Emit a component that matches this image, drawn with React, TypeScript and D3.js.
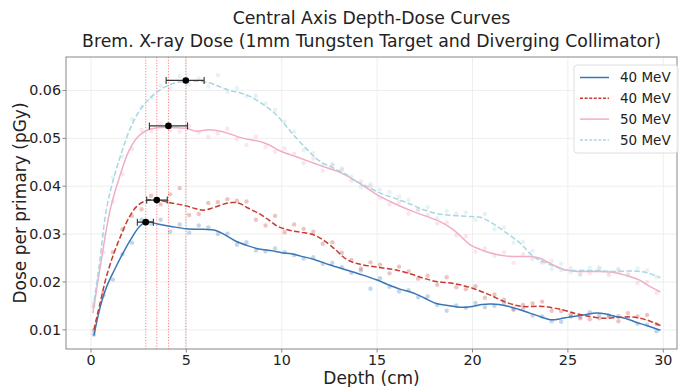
import React from "react";
import * as d3 from "d3";

// ---------- data ----------
const seriesLabels = ["40 MeV", "40 MeV", "50 MeV", "50 MeV"];
const xTicks = [0, 5, 10, 15, 20, 25, 30];
const yTicks = [0.01, 0.02, 0.03, 0.04, 0.05, 0.06];

// smoothed curves (depth cm, dose pGy)
const blueDepth = [0.15, 0.5, 0.8, 1.2, 1.7, 2.1, 2.5, 2.9, 3.5, 4.2, 5.0, 5.9, 6.5, 7.0, 7.6, 8.2, 8.8, 9.5, 10.0, 10.5, 11.0, 11.7, 12.5, 13.4, 14.2, 15.0, 15.6, 16.2, 16.9, 17.5, 18.1, 18.7, 19.4, 20.0, 20.5, 21.0, 21.8, 22.4, 23.0, 23.6, 24.1, 24.6, 25.1, 25.8, 26.5, 27.0, 27.5, 28.0, 28.5, 29.2, 29.85];
const blueDose = [0.0088, 0.0150, 0.0188, 0.0223, 0.0262, 0.0290, 0.0314, 0.0326, 0.0321, 0.0316, 0.0311, 0.0310, 0.0308, 0.0299, 0.0285, 0.0276, 0.0269, 0.0265, 0.0261, 0.0259, 0.0254, 0.0247, 0.0236, 0.0225, 0.0215, 0.0204, 0.0194, 0.0185, 0.0177, 0.0166, 0.0155, 0.0151, 0.0147, 0.0149, 0.0153, 0.0154, 0.0150, 0.0143, 0.0135, 0.0127, 0.0121, 0.0123, 0.0127, 0.0131, 0.0135, 0.0133, 0.0128, 0.0124, 0.0117, 0.0108, 0.0099];

const redDepth = [0.15, 0.5, 0.8, 1.2, 1.6, 2.0, 2.4, 2.9, 3.5, 4.2, 5.0, 5.5, 5.9, 6.4, 6.9, 7.4, 7.8, 8.2, 8.8, 9.3, 9.8, 10.4, 11.0, 11.7, 12.2, 12.8, 13.4, 14.0, 15.0, 16.0, 16.9, 17.5, 18.1, 19.0, 20.0, 20.9, 21.8, 22.6, 23.7, 24.7, 25.4, 26.0, 27.0, 27.6, 28.3, 29.1, 29.85];
const redDose = [0.0100, 0.0160, 0.0210, 0.0260, 0.0300, 0.0335, 0.0358, 0.0370, 0.0371, 0.0365, 0.0359, 0.0353, 0.0350, 0.0355, 0.0362, 0.0366, 0.0364, 0.0355, 0.0343, 0.0330, 0.0316, 0.0308, 0.0304, 0.0298, 0.0287, 0.0268, 0.0247, 0.0238, 0.0231, 0.0225, 0.0215, 0.0207, 0.0201, 0.0197, 0.0187, 0.0173, 0.0157, 0.0149, 0.0149, 0.0142, 0.0134, 0.0129, 0.0124, 0.0126, 0.0127, 0.0121, 0.0109];

const pinkDepth = [0.1, 0.5, 1.0, 1.5, 2.0, 2.5, 3.0, 3.5, 4.0, 4.5, 5.0, 5.5, 6.2, 6.8, 7.3, 8.0, 8.9, 9.4, 9.9, 10.5, 11.0, 11.7, 12.4, 13.0, 13.5, 14.0, 14.5, 15.0, 15.9, 16.9, 17.6, 18.3, 19.0, 19.5, 19.9, 20.4, 20.8, 21.8, 23.0, 23.5, 24.2, 24.9, 25.5, 26.5, 27.4, 28.2, 28.7, 29.2, 29.85];
const pinkDose = [0.0135, 0.0235, 0.0350, 0.0420, 0.0475, 0.0505, 0.0518, 0.0522, 0.0523, 0.0522, 0.0521, 0.0515, 0.0518, 0.0515, 0.0509, 0.0500, 0.0493, 0.0485, 0.0474, 0.0465, 0.0458, 0.0448, 0.0438, 0.0430, 0.0420, 0.0408, 0.0395, 0.0382, 0.0364, 0.0347, 0.0337, 0.0326, 0.0309, 0.0291, 0.0277, 0.0268, 0.0262, 0.0254, 0.0253, 0.0250, 0.0236, 0.0225, 0.0222, 0.0222, 0.0220, 0.0212, 0.0205, 0.0193, 0.0179];

const lightDepth = [0.1, 0.45, 0.8, 1.2, 1.6, 2.0, 2.5, 3.0, 3.6, 4.2, 4.8, 5.4, 6.2, 6.8, 7.3, 8.0, 8.6, 9.2, 9.7, 10.2, 10.6, 11.3, 11.9, 12.7, 13.4, 13.8, 14.3, 15.2, 16.0, 16.6, 17.3, 18.0, 18.7, 19.7, 20.4, 20.9, 21.4, 21.8, 22.5, 23.2, 23.9, 24.4, 24.9, 26.5, 27.4, 28.4, 29.1, 29.85];
const lightDose = [0.0145, 0.0240, 0.0350, 0.0418, 0.0470, 0.0515, 0.0555, 0.0580, 0.0601, 0.0613, 0.0619, 0.0620, 0.0616, 0.0607, 0.0600, 0.0593, 0.0582, 0.0566, 0.0550, 0.0527, 0.0508, 0.0478, 0.0455, 0.0438, 0.0424, 0.0412, 0.0403, 0.0385, 0.0374, 0.0365, 0.0353, 0.0344, 0.0340, 0.0337, 0.0335, 0.0326, 0.0313, 0.0302, 0.0281, 0.0253, 0.0239, 0.0231, 0.0225, 0.0224, 0.0222, 0.0223, 0.0220, 0.0209];

// raw scatter samples
const scatterDepth = [0.15, 0.65, 1.15, 1.65, 2.15, 2.65, 3.15, 3.65, 4.15, 4.65, 5.15, 5.65, 6.15, 6.65, 7.15, 7.65, 8.15, 8.65, 9.15, 9.65, 10.15, 10.65, 11.15, 11.65, 12.15, 12.65, 13.15, 13.65, 14.15, 14.65, 15.15, 15.65, 16.15, 16.65, 17.15, 17.65, 18.15, 18.65, 19.15, 19.65, 20.15, 20.65, 21.15, 21.65, 22.15, 22.65, 23.15, 23.65, 24.15, 24.65, 25.15, 25.65, 26.15, 26.65, 27.15, 27.65, 28.15, 28.65, 29.15, 29.65];
const blueScatter = [0.0090, 0.0172, 0.0205, 0.0258, 0.0282, 0.0330, 0.0322, 0.0330, 0.0305, 0.0320, 0.0303, 0.0318, 0.0314, 0.0300, 0.0301, 0.0278, 0.0283, 0.0266, 0.0264, 0.0270, 0.0262, 0.0256, 0.0249, 0.0252, 0.0238, 0.0240, 0.0231, 0.0219, 0.0224, 0.0186, 0.0208, 0.0190, 0.0180, 0.0183, 0.0168, 0.0170, 0.0152, 0.0140, 0.0151, 0.0146, 0.0156, 0.0147, 0.0150, 0.0155, 0.0142, 0.0144, 0.0130, 0.0128, 0.0118, 0.0117, 0.0128, 0.0127, 0.0137, 0.0131, 0.0130, 0.0129, 0.0125, 0.0113, 0.0111, 0.0097];
const redScatter = [0.0098, 0.0178, 0.0262, 0.0310, 0.0338, 0.0352, 0.0380, 0.0362, 0.0383, 0.0396, 0.0340, 0.0342, 0.0365, 0.0367, 0.0373, 0.0370, 0.0368, 0.0330, 0.0318, 0.0338, 0.0304, 0.0320, 0.0311, 0.0305, 0.0280, 0.0283, 0.0261, 0.0246, 0.0228, 0.0241, 0.0236, 0.0218, 0.0232, 0.0222, 0.0207, 0.0213, 0.0194, 0.0210, 0.0189, 0.0185, 0.0191, 0.0167, 0.0174, 0.0163, 0.0144, 0.0152, 0.0155, 0.0159, 0.0140, 0.0139, 0.0131, 0.0124, 0.0122, 0.0124, 0.0128, 0.0118, 0.0135, 0.0128, 0.0131, 0.0112];
const pinkScatter = [0.0150, 0.0262, 0.0368, 0.0425, 0.0478, 0.0518, 0.0515, 0.0530, 0.0517, 0.0514, 0.0526, 0.0512, 0.0503, 0.0510, 0.0520, 0.0498, 0.0486, 0.0504, 0.0482, 0.0472, 0.0479, 0.0468, 0.0448, 0.0458, 0.0432, 0.0444, 0.0437, 0.0412, 0.0410, 0.0400, 0.0375, 0.0362, 0.0367, 0.0343, 0.0352, 0.0340, 0.0322, 0.0325, 0.0297, 0.0296, 0.0263, 0.0270, 0.0254, 0.0262, 0.0240, 0.0258, 0.0248, 0.0243, 0.0244, 0.0225, 0.0229, 0.0216, 0.0218, 0.0227, 0.0214, 0.0224, 0.0216, 0.0198, 0.0200, 0.0177];
const lightScatter = [0.0158, 0.0300, 0.0418, 0.0462, 0.0540, 0.0566, 0.0585, 0.0610, 0.0605, 0.0630, 0.0612, 0.0625, 0.0608, 0.0632, 0.0597, 0.0605, 0.0588, 0.0589, 0.0573, 0.0560, 0.0535, 0.0514, 0.0476, 0.0469, 0.0444, 0.0446, 0.0434, 0.0420, 0.0398, 0.0404, 0.0393, 0.0388, 0.0378, 0.0372, 0.0350, 0.0356, 0.0333, 0.0348, 0.0343, 0.0345, 0.0330, 0.0342, 0.0310, 0.0314, 0.0282, 0.0284, 0.0265, 0.0240, 0.0227, 0.0238, 0.0220, 0.0215, 0.0230, 0.0231, 0.0218, 0.0227, 0.0214, 0.0228, 0.0224, 0.0210];

// peak positions with uncertainty
const peakDepth = [2.87, 3.45, 4.06, 4.97];
const peakDose = [0.0325, 0.0371, 0.0526, 0.0621];
const peakLow = [2.43, 2.92, 3.06, 3.94];
const peakHigh = [3.27, 4.0, 5.06, 5.93];

const colors = ["#3a76b6", "#c83a32", "#f1adc5", "#a9d6e3"];
const dashes = [null, "5.5,2.4", null, "5.5,2.4"];

export default function App() {
  const W = 684, H = 387;
  const left = 66, right = 677, top = 57, bottom = 349;
  const x = d3.scaleLinear().domain([-1.31, 30.72]).range([left, right]);
  const y = d3.scaleLinear().domain([0.006, 0.01 + (330 - 57) / 4790]).range([bottom, top]);

  const curves = [
    [blueDepth, blueDose],
    [redDepth, redDose],
    [pinkDepth, pinkDose],
    [lightDepth, lightDose],
  ];
  const scatters = [blueScatter, redScatter, pinkScatter, lightScatter];
  const line = d3
    .line<[number, number]>()
    .x((d) => x(d[0]))
    .y((d) => y(d[1]))
    .curve(d3.curveCatmullRom.alpha(0.5));

  const font = "DejaVu Sans, sans-serif";
  const cx = (left + right) / 2;

  return (
    <svg width={W} height={H} style={{ position: "absolute", left: 0, top: 0, background: "#fff" }} fontFamily={font}>
      <defs>
        <clipPath id="plot">
          <rect x={left} y={top} width={right - left} height={bottom - top} />
        </clipPath>
      </defs>
      {/* title */}
      <text x={cx} y={24} textAnchor="middle" fontSize={17.3} fill="#222">Central Axis Depth-Dose Curves</text>
      <text x={cx} y={46.5} textAnchor="middle" fontSize={17.3} fill="#222">Brem. X-ray Dose (1mm Tungsten Target and Diverging Collimator)</text>

      {/* grid */}
      {xTicks.map((t) => (
        <line key={"gx" + t} x1={x(t)} x2={x(t)} y1={top} y2={bottom} stroke="#ececec" strokeWidth={0.9} />
      ))}
      {yTicks.map((t) => (
        <line key={"gy" + t} x1={left} x2={right} y1={y(t)} y2={y(t)} stroke="#ececec" strokeWidth={0.9} />
      ))}

      <g clipPath="url(#plot)">
        {/* scatter */}
        {scatters.map((s, i) =>
          s.map((v, j) => (
            <circle key={`s${i}-${j}`} cx={x(scatterDepth[j])} cy={y(v)} r={2.2} fill={colors[i]} opacity={0.3} />
          ))
        )}
        {/* vertical peak lines */}
        {peakDepth.map((p, i) => (
          <line key={"v" + i} x1={x(p)} x2={x(p)} y1={top} y2={bottom} stroke="#ff0000" strokeOpacity={0.5} strokeWidth={1} strokeDasharray="1.2,1.6" />
        ))}
        {/* curves */}
        {curves.map((c, i) => (
          <path
            key={"c" + i}
            d={line(c[0].map((d, k) => [d, c[1][k]] as [number, number])) || ""}
            fill="none"
            stroke={colors[i]}
            strokeWidth={1.5}
            strokeDasharray={dashes[i] || undefined}
          />
        ))}
        {/* error bars */}
        {peakDepth.map((p, i) => (
          <g key={"e" + i}>
            <line x1={x(peakLow[i])} x2={x(peakHigh[i])} y1={y(peakDose[i])} y2={y(peakDose[i])} stroke="#333" strokeWidth={1.3} />
            <line x1={x(peakLow[i])} x2={x(peakLow[i])} y1={y(peakDose[i]) - 3.5} y2={y(peakDose[i]) + 3.5} stroke="#333" strokeWidth={1.1} />
            <line x1={x(peakHigh[i])} x2={x(peakHigh[i])} y1={y(peakDose[i]) - 3.5} y2={y(peakDose[i]) + 3.5} stroke="#333" strokeWidth={1.1} />
            <circle cx={x(p)} cy={y(peakDose[i])} r={3.3} fill="#000" />
          </g>
        ))}
      </g>

      {/* spines */}
      <rect x={left} y={top} width={right - left} height={bottom - top} fill="none" stroke="#888" strokeWidth={1} />

      {/* ticks */}
      {xTicks.map((t) => (
        <g key={"tx" + t}>
          <line x1={x(t)} x2={x(t)} y1={bottom} y2={bottom + 3.5} stroke="#888" />
          <text x={x(t)} y={365} textAnchor="middle" fontSize={14.3} fill="#222">{t}</text>
        </g>
      ))}
      {yTicks.map((t) => (
        <g key={"ty" + t}>
          <line x1={left - 3.5} x2={left} y1={y(t)} y2={y(t)} stroke="#888" />
          <text x={61} y={y(t)} dy="0.35em" textAnchor="end" fontSize={14.3} fill="#222">{t.toFixed(2)}</text>
        </g>
      ))}

      {/* axis labels */}
      <text x={cx} y={384} textAnchor="middle" fontSize={17} fill="#222">Depth (cm)</text>
      <text transform={`translate(26,${(top + bottom) / 2}) rotate(-90)`} textAnchor="middle" fontSize={17} fill="#222">Dose per primary (pGy)</text>

      {/* legend */}
      <rect x={574} y={65} width={104} height={88} rx={3} fill="#fff" fillOpacity={0.85} stroke="#ddd" />
      {seriesLabels.map((lab, i) => {
        const ly = 77.5 + i * 20.8;
        return (
          <g key={"l" + i}>
            <line x1={580} x2={609} y1={ly} y2={ly} stroke={colors[i]} strokeWidth={1.5} strokeDasharray={dashes[i] ? "3,1.6" : undefined} />
            <text x={620} y={ly} dy="0.35em" fontSize={13.5} fill="#222">{lab}</text>
          </g>
        );
      })}
    </svg>
  );
}
